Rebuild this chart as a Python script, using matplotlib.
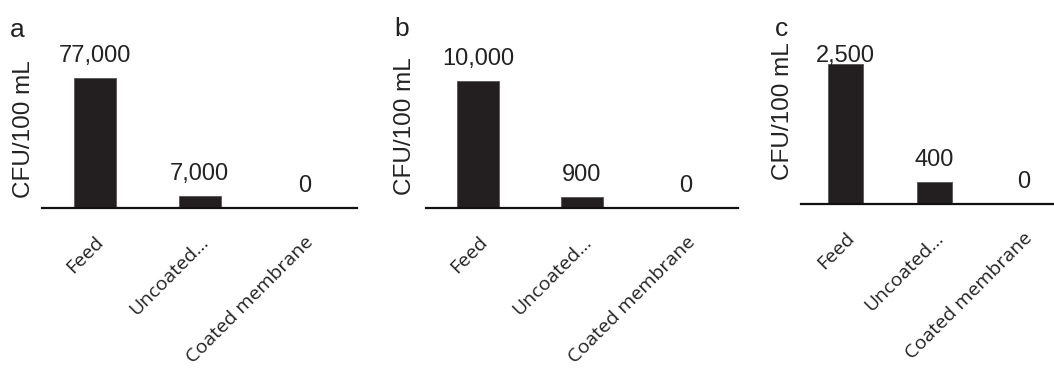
import numpy as np
import matplotlib
matplotlib.use("Agg")
import matplotlib.pyplot as plt

# data
categories = ["Feed", "Uncoated\u2026", "Coated membrane"]
panel_names = ["a", "b", "c"]
values_a = [77000, 7000, 0]
values_b = [10000, 900, 0]
values_c = [2500, 400, 0]
ylabel = "CFU/100 mL"

W, H = 1054, 369
bar_color = "#231f20"
num_font = "Liberation Sans"
tick_font = "Open Sans"

fig = plt.figure(figsize=(W / 100, H / 100), dpi=100)


def px_axes(left, right, bottom, top):
    # pixel box (from top-left) -> figure fraction rect
    return [left / W, (H - bottom) / H, (right - left) / W, (bottom - top) / H]


# axes boxes in pixels: left, right, baseline, top
boxes = [(42, 357, 208, 30), (426, 738, 208, 30), (801, 1068, 204, 62)]
ytops = [105400, 14000, 2536]
bar_widths = [0.4, 0.4, 0.39]
letter_pos = [(10, 37), (394, 36), (775, 36)]
ylab_pos = [(24, 129), (405, 126), (783, 111)]

for name, vals, box, ytop, bw, lp, yp in zip(panel_names, [values_a, values_b, values_c],
                                              boxes, ytops, bar_widths, letter_pos, ylab_pos):
    ax = fig.add_axes(px_axes(*box))
    x = np.arange(len(categories))
    ax.bar(x, vals, width=bw, color=bar_color, edgecolor="#555555", linewidth=0.6)
    ax.set_xlim(-0.5, 2.5)
    ax.set_ylim(0, ytop)
    for s in ["top", "right", "left"]:
        ax.spines[s].set_visible(False)
    ax.spines["bottom"].set_linewidth(1.6)
    ax.spines["bottom"].set_color("#111111")
    ax.set_yticks([])
    ax.set_xticks(x)
    ax.set_xticklabels(categories, rotation=45, ha="right", rotation_mode="anchor",
                       fontsize=14, family=tick_font, color="#222222")
    ax.tick_params(axis="x", length=0, pad=18)

    # value labels, kept inside the axes box
    top_px = H - box[3]
    for i, v in enumerate(vals):
        xd, yd = ax.transData.transform((i, v))
        ypix = min(yd + 16, top_px)
        fig.text(xd / W, ypix / H, f"{v:,}", ha="center", va="baseline",
                 fontsize=17, family=num_font, color="#222222")

    fig.text(lp[0] / W, (H - lp[1]) / H, name, ha="left", va="baseline",
             fontsize=19, family=num_font, color="#222222")
    fig.text(yp[0] / W, (H - yp[1]) / H, ylabel, rotation=90, ha="center", va="center",
             fontsize=17.5, family=num_font, color="#222222")

fig.savefig("out.png", dpi=100)
